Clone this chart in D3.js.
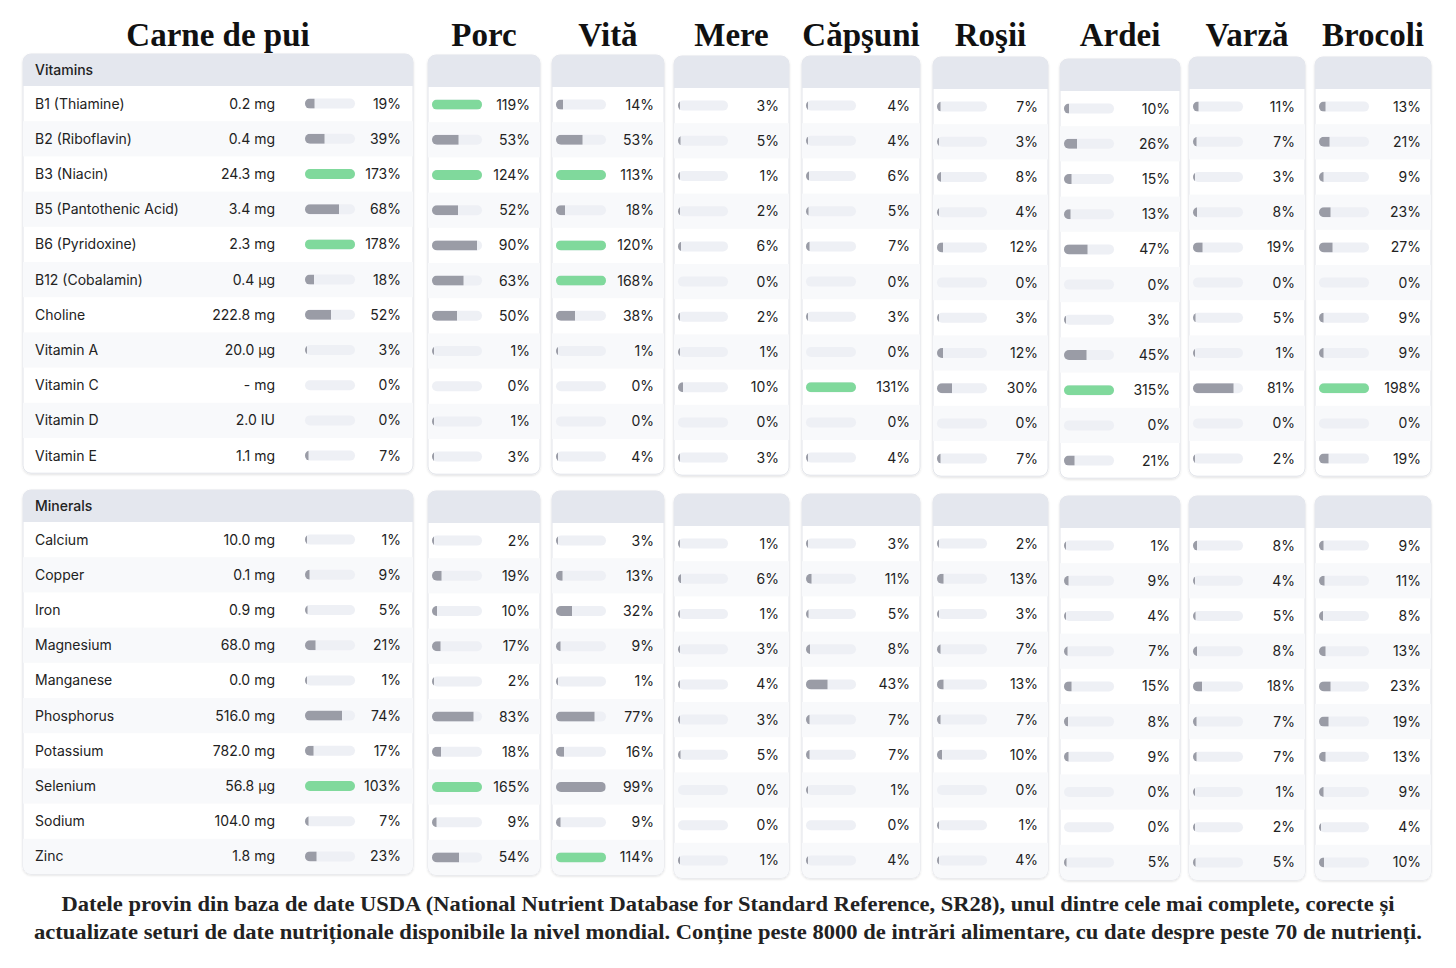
<!DOCTYPE html>
<html><head><meta charset="utf-8">
<script src="https://cdn.jsdelivr.net/npm/d3@7"></script>
<style>body{margin:0;background:#fff}svg{display:block}</style></head>
<body><svg id="c" width="1456" height="968"></svg>
<script>
const foods=["Carne de pui","Porc","Vită","Mere","Căpşuni","Roşii","Ardei","Varză","Brocoli"];
const vitNames=["B1 (Thiamine)","B2 (Riboflavin)","B3 (Niacin)","B5 (Pantothenic Acid)","B6 (Pyridoxine)","B12 (Cobalamin)","Choline","Vitamin A","Vitamin C","Vitamin D","Vitamin E"];
const vitAmounts=["0.2 mg","0.4 mg","24.3 mg","3.4 mg","2.3 mg","0.4 µg","222.8 mg","20.0 µg","- mg","2.0 IU","1.1 mg"];
const minNames=["Calcium","Copper","Iron","Magnesium","Manganese","Phosphorus","Potassium","Selenium","Sodium","Zinc"];
const minAmounts=["10.0 mg","0.1 mg","0.9 mg","68.0 mg","0.0 mg","516.0 mg","782.0 mg","56.8 µg","104.0 mg","1.8 mg"];
const vitPct=[
[19,39,173,68,178,18,52,3,0,0,7],
[119,53,124,52,90,63,50,1,0,1,3],
[14,53,113,18,120,168,38,1,0,0,4],
[3,5,1,2,6,0,2,1,10,0,3],
[4,4,6,5,7,0,3,0,131,0,4],
[7,3,8,4,12,0,3,12,30,0,7],
[10,26,15,13,47,0,3,45,315,0,21],
[11,7,3,8,19,0,5,1,81,0,2],
[13,21,9,23,27,0,9,9,198,0,19]];
const minPct=[
[1,9,5,21,1,74,17,103,7,23],
[2,19,10,17,2,83,18,165,9,54],
[3,13,32,9,1,77,16,99,9,114],
[1,6,1,3,4,3,5,0,0,1],
[3,11,5,8,43,7,7,1,0,4],
[2,13,3,7,13,7,10,0,1,4],
[1,9,4,7,15,8,9,0,0,5],
[8,4,5,8,18,7,7,1,2,5],
[9,11,8,13,23,19,13,9,4,10]];
const caption=["Datele provin din baza de date USDA (National Nutrient Database for Standard Reference, SR28), unul dintre cele mai complete, corecte și","actualizate seturi de date nutriționale disponibile la nivel mondial. Conține peste 8000 de intrări alimentare, cu date despre peste 70 de nutrienți."];

const colX=[[23,413],[428,540],[552,664],[674,789],[802,920],[933,1048],[1060,1180],[1189,1305],[1315,1431]];
const vitTop=[54,55,55,56,56,57,59,57,57];
const minTop=[490,491,491,494,494,494,496,496,496];
const hdrH=32,rowH=35.2;
const svg=d3.select("#c");
const defs=svg.append("defs");
const f=defs.append("filter").attr("id","sh").attr("x","-5%").attr("y","-5%").attr("width","110%").attr("height","110%");
f.append("feDropShadow").attr("dx",0).attr("dy",1).attr("stdDeviation",1.2).attr("flood-color","#000").attr("flood-opacity",0.12);
const font="Inter, 'Noto Sans', sans-serif";
const bw=d3.scaleLinear().domain([0,100]).range([0,50]).clamp(true);

foods.forEach((fd,i)=>{
  const [x0,x1]=colX[i];
  svg.append("text").attr("x",(x0+x1)/2).attr("y",46).attr("text-anchor","middle")
    .attr("font-family","'Liberation Serif','DejaVu Serif',serif").attr("font-weight","bold")
    .attr("font-size",33).attr("fill","#111").text(fd);
  [[vitTop[i],vitNames,vitAmounts,vitPct[i],"Vitamins"],[minTop[i],minNames,minAmounts,minPct[i],"Minerals"]].forEach(([top,names,amts,pcts,title])=>{
    const y=d3.scaleBand().domain(d3.range(names.length)).range([top+hdrH,top+hdrH+rowH*names.length]);
    const g=svg.append("g");
    const H=hdrH+rowH*names.length;
    g.append("rect").attr("x",x0).attr("y",top).attr("width",x1-x0).attr("height",H).attr("rx",8)
      .attr("fill","#fff").attr("stroke","#e2e4ea").attr("filter","url(#sh)");
    const clip="cl"+i+title;
    defs.append("clipPath").attr("id",clip).append("rect").attr("x",x0).attr("y",top).attr("width",x1-x0).attr("height",H).attr("rx",8);
    const inner=g.append("g").attr("clip-path",`url(#${clip})`);
    inner.append("rect").attr("x",x0).attr("y",top).attr("width",x1-x0).attr("height",hdrH).attr("fill","#e4e7ee");
    inner.selectAll(".alt").data(d3.range(names.length).filter(k=>k%2==1)).join("rect")
      .attr("x",x0).attr("y",k=>y(k)).attr("width",x1-x0).attr("height",y.bandwidth()).attr("fill","#f8f9fb");
    const first=i===0;
    const barX=first?305:x0+4;
    const pctX=first?401:x1-10;
    if(first){
      g.append("text").attr("x",x0+12).attr("y",top+hdrH/2+5).attr("font-family",font).attr("font-size",14).attr("font-weight",500).attr("fill","#222").text(title);
      g.selectAll(".n").data(names).join("text").attr("x",x0+12).attr("y",(d,k)=>y(k)+y.bandwidth()/2+5)
        .attr("font-family",font).attr("font-size",14).attr("fill","#222").text(d=>d);
      g.selectAll(".a").data(amts).join("text").attr("x",275).attr("y",(d,k)=>y(k)+y.bandwidth()/2+5).attr("text-anchor","end")
        .attr("font-family",font).attr("font-size",14).attr("fill","#222").text(d=>d);
    }
    const bh=10;
    g.selectAll(".t").data(pcts).join("rect").attr("x",barX).attr("y",(d,k)=>y(k)+y.bandwidth()/2-bh/2)
      .attr("width",50).attr("height",bh).attr("rx",5).attr("fill","#eef0f5");
    const bc="bc"+i+title;
    g.selectAll(".b").data(pcts).join(enter=>{
      const gg=enter.append("g");
      gg.each(function(d,k){
        const id=bc+k;
        defs.append("clipPath").attr("id",id).append("rect").attr("x",barX).attr("y",y(k)+y.bandwidth()/2-bh/2).attr("width",50).attr("height",bh).attr("rx",5);
        d3.select(this).append("rect").attr("clip-path",`url(#${id})`).attr("x",barX).attr("y",y(k)+y.bandwidth()/2-bh/2)
          .attr("width",d>0?Math.max(bw(d),2):0).attr("height",bh).attr("fill",d>=100?"#80d99c":"#9a9ca6");
      });
      return gg;
    });
    g.selectAll(".p").data(pcts).join("text").attr("x",pctX).attr("y",(d,k)=>y(k)+y.bandwidth()/2+5).attr("text-anchor","end")
      .attr("font-family",font).attr("font-size",14).attr("fill","#222").text(d=>d+"%");
  });
});
const capW=[1333,1388];
caption.forEach((c,k)=>svg.append("text").attr("x",728-capW[k]/2).attr("y",911+k*28)
  .attr("textLength",capW[k]).attr("lengthAdjust","spacingAndGlyphs")
  .attr("font-family","'Liberation Serif','DejaVu Serif',serif").attr("font-weight","bold").attr("font-size",22).attr("fill","#222").text(c));
</script></body></html>
